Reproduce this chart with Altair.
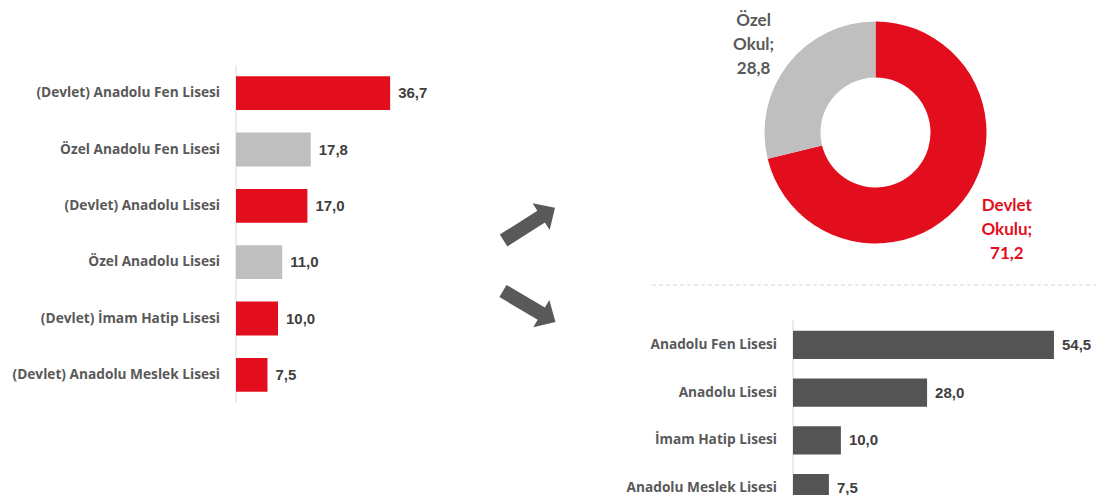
import altair as alt
import pandas as pd
import math

# ---------------- data ----------------
left_cats = ["(Devlet) Anadolu Fen Lisesi", "Özel Anadolu Fen Lisesi", "(Devlet) Anadolu Lisesi",
             "Özel Anadolu Lisesi", "(Devlet) İmam Hatip Lisesi", "(Devlet) Anadolu Meslek Lisesi"]
left_vals = [36.7, 17.8, 17.0, 11.0, 10.0, 7.5]
left_type = ["Devlet", "Özel", "Devlet", "Özel", "Devlet", "Devlet"]

donut_cats = ["Devlet Okulu", "Özel Okul"]
donut_vals = [71.2, 28.8]

right_cats = ["Anadolu Fen Lisesi", "Anadolu Lisesi", "İmam Hatip Lisesi", "Anadolu Meslek Lisesi"]
right_vals = [54.5, 28.0, 10.0, 7.5]


def tr(v):
    return f"{v:.1f}".replace(".", ",")


left_df = pd.DataFrame({"cat": left_cats, "value": left_vals, "type": left_type,
                        "label": [tr(v) for v in left_vals]})
donut_df = pd.DataFrame({"cat": donut_cats, "value": donut_vals, "ord": list(range(len(donut_cats))),
                         "label": [c.replace(" ", "\n") + ";\n" + tr(v) for c, v in zip(donut_cats, donut_vals)]})
right_df = pd.DataFrame({"cat": right_cats, "value": right_vals,
                         "label": [tr(v) for v in right_vals]})
one = pd.DataFrame({"a": [0]})

RED = "#E30E1D"
LGRAY = "#BFBFBF"
DGRAY = "#545454"
TXT = "#595959"
VTXT = "#404040"
LBL_FONT = "Open Sans"
DONUT_FONT = "Lato"
NUM_FONT = "Liberation Sans"
LBL_SIZE = 13.7

# ---------------- left bar chart ----------------
lx = alt.Scale(domain=[0, 40], range=[228, 396])
ly = alt.Scale(type="band", domain=left_cats, range=[57, 395], paddingInner=0.4, paddingOuter=0.2)

left_bars = alt.Chart(left_df).mark_bar().encode(
    x=alt.X("value:Q", scale=lx, axis=None),
    y=alt.Y("cat:N", scale=ly, axis=None, sort=None),
    color=alt.Color("type:N", scale=alt.Scale(domain=["Devlet", "Özel"], range=[RED, LGRAY]), legend=None),
)
left_vlab = alt.Chart(left_df).mark_text(align="left", baseline="middle", dx=8, font=NUM_FONT,
                                         fontWeight="bold", fontSize=15, color=VTXT).encode(
    x=alt.X("value:Q", scale=lx, axis=None),
    y=alt.Y("cat:N", scale=ly, axis=None, sort=None),
    text="label:N",
)
left_clab = alt.Chart(left_df).mark_text(align="right", baseline="middle", font=LBL_FONT,
                                         fontWeight="bold", fontSize=LBL_SIZE, color=TXT).encode(
    x=alt.value(212),
    y=alt.Y("cat:N", scale=ly, axis=None, sort=None),
    text="cat:N",
)
left_axis = alt.Chart(one).mark_rule(color="#D9D9D9", strokeWidth=1).encode(
    x=alt.value(228), y=alt.value(57), y2=alt.value(395))

# ---------------- arrows ----------------
arrow_path = "M-1,-0.23 L0.46,-0.23 L0.46,-0.52 L1,0 L0.46,0.52 L0.46,0.23 L-1,0.23 Z"
arrow_up = alt.Chart(one).mark_point(shape=arrow_path, size=3721, angle=327.4, filled=True,
                                     color=TXT, opacity=1, strokeWidth=0).encode(
    x=alt.value(521.3), y=alt.value(216.1))
arrow_down = alt.Chart(one).mark_point(shape=arrow_path, size=3721, angle=30.5, filled=True,
                                       color=TXT, opacity=1, strokeWidth=0).encode(
    x=alt.value(521.2), y=alt.value(298.5))

# ---------------- donut ----------------
CX, CY = 867.5, 124.5
LH = 24
donut = alt.Chart(donut_df).mark_arc(innerRadius=55, outerRadius=111, stroke=None).encode(
    theta=alt.Theta("value:Q", stack=True),
    color=alt.Color("cat:N", scale=alt.Scale(domain=donut_cats, range=[RED, LGRAY]), legend=None),
    order=alt.Order("ord:Q"),
    x=alt.value(CX), y=alt.value(CY),
)
donut_base = alt.Chart(donut_df).transform_window(
    cum="sum(value)", sort=[alt.SortField("ord")]
).transform_calculate(
    mid="datum.cum - datum.value / 2"
)


def donut_label(cat, radius, dy):
    return donut_base.transform_filter(alt.datum.cat == cat).mark_text(
        radius=radius, align="center", baseline="middle", lineBreak="\n", lineHeight=LH, dy=dy,
        font=DONUT_FONT, fontWeight="bold", fontSize=17).encode(
        theta=alt.Theta("mid:Q", scale=alt.Scale(domain=[0, 100], range=[0, 2 * math.pi])),
        text="label:N",
        color=alt.Color("cat:N", scale=alt.Scale(domain=donut_cats, range=[RED, TXT]), legend=None),
        x=alt.value(CX), y=alt.value(CY),
    )


donut_lab1 = donut_label("Devlet Okulu", 167, -30)
donut_lab2 = donut_label("Özel Okul", 155, -16)

# ---------------- separator ----------------
sep = alt.Chart(one).mark_rule(color="#D9D9D9", strokeWidth=1, strokeDash=[4, 3]).encode(
    x=alt.value(644), x2=alt.value(1092), y=alt.value(277))

# ---------------- right bar chart ----------------
rx = alt.Scale(domain=[0, 60], range=[785, 1072.3])
ry = alt.Scale(type="band", domain=right_cats, range=[313, 504], paddingInner=0.41, paddingOuter=0.205)

right_bars = alt.Chart(right_df).mark_bar(color=DGRAY).encode(
    x=alt.X("value:Q", scale=rx, axis=None),
    y=alt.Y("cat:N", scale=ry, axis=None, sort=None),
)
right_vlab = alt.Chart(right_df).mark_text(align="left", baseline="middle", dx=8, font=NUM_FONT,
                                           fontWeight="bold", fontSize=15, color=VTXT).encode(
    x=alt.X("value:Q", scale=rx, axis=None),
    y=alt.Y("cat:N", scale=ry, axis=None, sort=None),
    text="label:N",
)
right_clab = alt.Chart(right_df).mark_text(align="right", baseline="middle", font=LBL_FONT,
                                           fontWeight="bold", fontSize=LBL_SIZE, color=TXT).encode(
    x=alt.value(769),
    y=alt.Y("cat:N", scale=ry, axis=None, sort=None),
    text="cat:N",
)
right_axis = alt.Chart(one).mark_rule(color="#D9D9D9", strokeWidth=1).encode(
    x=alt.value(785), y=alt.value(312), y2=alt.value(487))

chart = alt.layer(
    left_axis, left_bars, left_vlab, left_clab,
    arrow_up, arrow_down,
    donut, donut_lab1, donut_lab2,
    sep,
    right_axis, right_bars, right_vlab, right_clab,
).resolve_scale(
    x="independent", y="independent", color="independent", theta="independent"
).properties(
    width=1088, height=487, padding=0, autosize="none", background="white"
).configure_view(stroke=None)

chart.save("out.html", embed_options={"renderer": "svg", "actions": False})
